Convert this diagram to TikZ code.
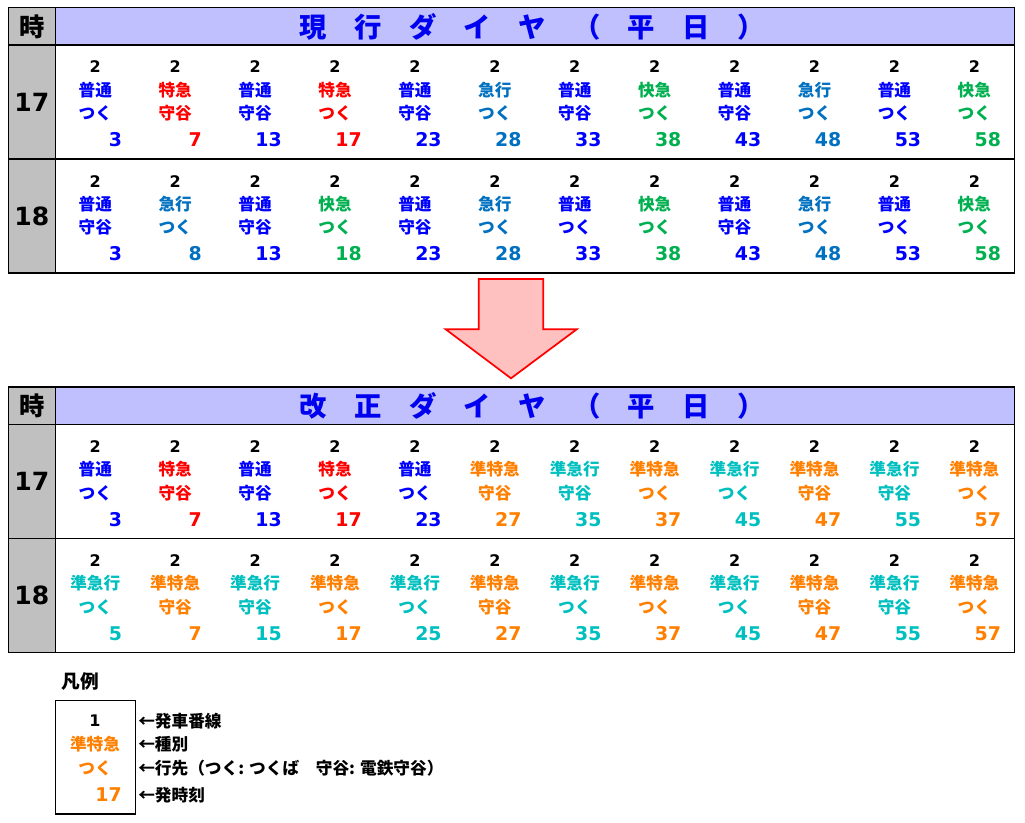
\documentclass[tikz,border=0pt]{standalone}
\usepackage{fontspec}
\setmainfont{Noto Sans CJK JP}
\newfontfamily\numfont{DejaVu Sans}
\definecolor{pu}{HTML}{0000FF}
\definecolor{tk}{HTML}{FF0000}
\definecolor{kk}{HTML}{0070C0}
\definecolor{ka}{HTML}{00B050}
\definecolor{jt}{HTML}{FF8000}
\definecolor{jk}{HTML}{00BFBF}
\definecolor{hdr}{HTML}{C0C0FF}
\definecolor{gry}{HTML}{C0C0C0}
\definecolor{arrowfill}{HTML}{FFC0C0}
\definecolor{titleblue}{HTML}{0000F0}
\tikzset{
  tline/.style={line width=1.15pt, black},
  plat/.style={font=\numfont\bfseries\fontsize{12}{14}\selectfont, inner sep=0pt},
  kind/.style={font=\bfseries\fontsize{12.5}{14}\selectfont, inner sep=0pt},
  minute/.style={font=\numfont\bfseries\fontsize{14.2}{16}\selectfont, inner sep=0pt, anchor=east},
  hour/.style={font=\numfont\bfseries\fontsize{18.8}{20}\selectfont, inner sep=0pt},
  hourlab/.style={font=\bfseries\fontsize{19}{20}\selectfont, inner sep=0pt},
  ttl/.style={font=\bfseries\fontsize{20.5}{22}\selectfont, inner sep=0pt, text=titleblue},
  legtxt/.style={font=\bfseries\fontsize{12.5}{14}\selectfont, inner sep=0pt, anchor=west},
  legtitle/.style={font=\bfseries\fontsize{14}{16}\selectfont, inner sep=0pt},
}
\newcommand\tcellx[7]{%
  \pgfmathsetmacro\cxx{55.3+79.92*(#3-0.5)}%
  \pgfmathsetmacro\rxx{55.3+79.92*#3-13}%
  \node[plat] (#1-p) at (\cxx,#2+22) {2};
  \node[kind,text=#4] (#1-k) at (\cxx,#2+45) {#5};
  \node[kind,text=#4] (#1-d) at (\cxx,#2+68.5) {#6};
  \node[minute,text=#4] (#1-m) at (\rxx,#2+95) {#7};
}
\newcommand\tframe[3]{%
  \fill[hdr] (55.3,#2) rectangle (1014.3,#2+37.5);
  \fill[gry] (8.3,#2) rectangle (55.3,#2+265.6);
  \draw[tline] (8.3,#2) rectangle (1014.3,#2+265.6);
  \draw[tline] (8.3,#2+37.5) -- (1014.3,#2+37.5);
  \draw[tline] (8.3,#2+151.6) -- (1014.3,#2+151.6);
  \draw[tline] (55.3,#2) -- (55.3,#2+265.6);
  \node[hourlab] (#1-ji) at (31.8,#2+19) {時};
  \node[ttl] (#1-title) at (532,#2+19.5) {#3};
  \node[hour] (#1-h17) at (31.8,#2+94.8) {17};
  \node[hour] (#1-h18) at (31.8,#2+208.8) {18};
}
\begin{document}
\begin{tikzpicture}[x=0.75pt,y=-0.75pt]
\useasboundingbox (0,0) rectangle (1025,823);
\fill[white] (0,0) rectangle (1025,823);

% ---- current timetable
\tframe{A}{7.5}{現　行　ダ　イ　ヤ　（　平　日　）}
\foreach \c/\cc/\ty/\ds/\mn in {1/pu/普通/つく/3, 2/tk/特急/守谷/7, 3/pu/普通/守谷/13, 4/tk/特急/つく/17, 5/pu/普通/守谷/23, 6/kk/急行/つく/28, 7/pu/普通/守谷/33, 8/ka/快急/つく/38, 9/pu/普通/守谷/43, 10/kk/急行/つく/48, 11/pu/普通/つく/53, 12/ka/快急/つく/58}
  {\tcellx{A17-\c}{45}{\c}{\cc}{\ty}{\ds}{\mn}}
\foreach \c/\cc/\ty/\ds/\mn in {1/pu/普通/守谷/3, 2/kk/急行/つく/8, 3/pu/普通/守谷/13, 4/ka/快急/つく/18, 5/pu/普通/守谷/23, 6/kk/急行/つく/28, 7/pu/普通/つく/33, 8/ka/快急/つく/38, 9/pu/普通/守谷/43, 10/kk/急行/つく/48, 11/pu/普通/つく/53, 12/ka/快急/つく/58}
  {\tcellx{A18-\c}{159.1}{\c}{\cc}{\ty}{\ds}{\mn}}

% ---- arrow
\draw[line width=1.3pt, red, fill=arrowfill, line join=miter]
  (478.7,279) -- (543.3,279) -- (543.3,329.3) -- (576.7,329.3) -- (511,378.3)
  -- (445.7,329.3) -- (478.7,329.3) -- cycle;

% ---- revised timetable
\tframe{B}{386.9}{改　正　ダ　イ　ヤ　（　平　日　）}
\foreach \c/\cc/\ty/\ds/\mn in {1/pu/普通/つく/3, 2/tk/特急/守谷/7, 3/pu/普通/守谷/13, 4/tk/特急/つく/17, 5/pu/普通/つく/23, 6/jt/準特急/守谷/27, 7/jk/準急行/守谷/35, 8/jt/準特急/つく/37, 9/jk/準急行/つく/45, 10/jt/準特急/守谷/47, 11/jk/準急行/守谷/55, 12/jt/準特急/つく/57}
  {\tcellx{B17-\c}{424.4}{\c}{\cc}{\ty}{\ds}{\mn}}
\foreach \c/\cc/\ty/\ds/\mn in {1/jk/準急行/つく/5, 2/jt/準特急/守谷/7, 3/jk/準急行/守谷/15, 4/jt/準特急/つく/17, 5/jk/準急行/つく/25, 6/jt/準特急/守谷/27, 7/jk/準急行/つく/35, 8/jt/準特急/つく/37, 9/jk/準急行/つく/45, 10/jt/準特急/守谷/47, 11/jk/準急行/守谷/55, 12/jt/準特急/つく/57}
  {\tcellx{B18-\c}{538.5}{\c}{\cc}{\ty}{\ds}{\mn}}

% ---- legend
\node[legtitle] (legtitle) at (80,681) {凡例};
\draw[line width=0.9pt] (55.3,700.7) rectangle (135.3,814);
\node[plat] (lg-p) at (95,721) {1};
\node[kind,text=jt] (lg-k) at (95,744.5) {準特急};
\node[kind,text=jt] (lg-d) at (95,768) {つく};
\node[minute,text=jt] (lg-m) at (122,795) {17};
\node[legtxt] (lt-p) at (138,721) {←発車番線};
\node[legtxt] (lt-k) at (138,744.5) {←種別};
\node[legtxt] (lt-d) at (138,768) {←行先（つく: つくば　守谷: 電鉄守谷）};
\node[legtxt] (lt-m) at (138,795) {←発時刻};
\end{tikzpicture}
\end{document}
